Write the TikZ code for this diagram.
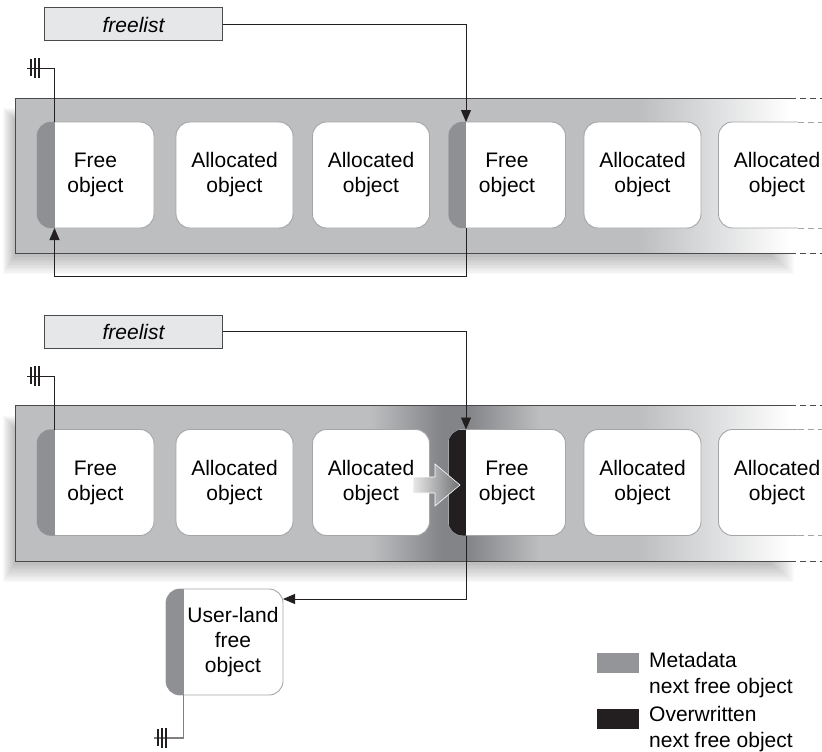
\documentclass[tikz,border=0pt]{standalone}
\usepackage{fontspec}
\setmainfont{Liberation Sans}
\usetikzlibrary{arrows.meta,calc}

\definecolor{barg}{HTML}{BCBEC0}
\definecolor{bardark}{HTML}{828487}
\definecolor{metag}{HTML}{8F9093}
\definecolor{objline}{HTML}{A3A5A8}
\definecolor{ink}{HTML}{231F20}
\definecolor{boxfill}{HTML}{E6E7E8}
\definecolor{frame}{HTML}{4A4A4A}
\definecolor{legendg}{HTML}{939598}

\tikzset{
  objbox/.style={draw=objline, line width=0.9pt, fill=white, rounded corners=14pt,
    minimum width=117pt, minimum height=106pt, inner sep=0pt, outer sep=0pt,
    align=center, font=\fontsize{21}{25}\selectfont},
  listbox/.style={draw=frame, line width=1pt, fill=boxfill, minimum width=178pt,
    minimum height=33pt, inner sep=0pt, outer sep=0pt,
    font=\fontsize{21}{25}\selectfont\itshape},
  link/.style={draw=ink, line width=0.9pt},
  tipend/.style={-{Triangle[length=12pt,width=10pt]}},
  barline/.style={draw=frame, line width=1pt},
  tick/.style={draw=ink, line width=1.5pt},
  legtext/.style={anchor=base west, inner sep=0pt, font=\fontsize{21}{25}\selectfont},
  legbox/.style={minimum width=42pt, minimum height=20pt, inner sep=0pt, outer sep=0pt},
}

% left strip of a free object holding the next-pointer
\newcommand{\metastrip}[2]{%
  \begin{scope}
    \clip[rounded corners=14pt] (#1.north west) rectangle (#1.south east);
    \fill[#2] (#1.north west) rectangle ([xshift=17.5pt]#1.south west);
  \end{scope}}

% the slab holding the objects: shadow, fill fading to the right, outline
\newcommand{\slab}[2]{%
  \foreach \i in {1,...,12}
    \fill[black, opacity=0.024] ({15-\i},{#1+22-\i}) rectangle ({770+2*\i},{#2+2+1.6*\i});
  \fill[barg] (15,#1) rectangle (640,#2);
  \shade[left color=barg, right color=white] (639.5,#1) rectangle (790,#2);
  \fill[white] (789.5,#1) rectangle (822,#2);}
\newcommand{\slabedge}[2]{%
  \draw[barline] (790,#1) -- (15,#1) -- (15,#2) -- (790,#2);
  \draw[barline, dash pattern=on 6pt off 4pt] (790,#1) -- (824,#1);
  \draw[barline, dash pattern=on 6pt off 4pt] (790,#2) -- (824,#2);}

% ground (null pointer) mark
\newcommand{\nullmark}[1]{%
  \draw[tick] ([xshift=4pt,yshift=-8pt]#1) -- ([xshift=4pt,yshift=9pt]#1);
  \draw[tick] ([xshift=8pt,yshift=-10pt]#1) -- ([xshift=8pt,yshift=10pt]#1);
  \draw[tick] ([xshift=12pt,yshift=-10pt]#1) -- ([xshift=12pt,yshift=10pt]#1);}

% open-ended last object of a slab
\newcommand{\openobj}[1]{%
  \draw[objline, line width=0.9pt, rounded corners=14pt]
    ([xshift=79pt]#1.north west) -- (#1.north west) -- (#1.south west) -- ([xshift=79pt]#1.south west);
  \draw[objline, line width=0.9pt, dash pattern=on 6pt off 4pt]
    ([xshift=79pt]#1.north west) -- ([xshift=110pt]#1.north west);
  \draw[objline, line width=0.9pt, dash pattern=on 6pt off 4pt]
    ([xshift=79pt]#1.south west) -- ([xshift=110pt]#1.south west);}

\begin{document}
\begin{tikzpicture}[x=1pt, y=-1pt]
\useasboundingbox (0,0) rectangle (822,752);
\clip (0,0) rectangle (822,752);

%% ---------------- upper list ----------------
\slab{98}{253}
\slabedge{98}{253}

\node[objbox] (a1) at (95.5,175) {Free\\object};
\node[objbox] (a2) at (234.5,175) {Allocated\\object};
\node[objbox] (a3) at (371,175) {Allocated\\object};
\node[objbox] (a4) at (507,175) {Free\\object};
\node[objbox] (a5) at (642.5,175) {Allocated\\object};
\node[objbox, draw=none] (a6) at (777,175) {Allocated\\object};
\openobj{a6}
\metastrip{a1}{metag}
\metastrip{a4}{metag}

\node[listbox] (fla) at (133.5,24.5) {freelist};
\coordinate (ga) at (27,68);
\nullmark{ga}

\draw[link, tipend] (fla.east) -| ([xshift=17.5pt]a4.north west);
\draw[link] (ga) -| ([xshift=17.5pt]a1.north west);
\draw[link, tipend] ([xshift=17.5pt]a4.south west) -- ++(0,48) -| ([xshift=17.5pt]a1.south west);

%% ---------------- lower list ----------------
\slab{405.5}{561}
% darker band where the overflow lands
\shade[left color=barg, right color=bardark] (370,405.5) rectangle (442,561);
\fill[bardark] (441.5,405.5) rectangle (468,561);
\shade[left color=bardark, right color=barg] (467.5,405.5) rectangle (540,561);
\slabedge{405.5}{561}

\node[objbox] (b1) at (95.5,482.5) {Free\\object};
\node[objbox] (b2) at (234.5,482.5) {Allocated\\object};
\node[objbox] (b3) at (371,482.5) {Allocated\\object};
\node[objbox] (b4) at (507,482.5) {Free\\object};
\node[objbox] (b5) at (642.5,482.5) {Allocated\\object};
\node[objbox, draw=none] (b6) at (777,482.5) {Allocated\\object};
\openobj{b6}
\metastrip{b1}{metag}
\metastrip{b4}{ink}

% overflow from the allocated object into the next free one
\shade[left color=gray!18, right color=bardark!85!black, draw=white, line width=0.6pt]
  (413,477) -- (435,477) -- (435,464) -- (460,485) -- (435,506) -- (435,493) -- (413,493) -- cycle;

\node[listbox] (flb) at (133.5,331.5) {freelist};
\coordinate (gb) at (27,376);
\nullmark{gb}

\draw[link, tipend] (flb.east) -| ([xshift=17.5pt]b4.north west);
\draw[link] (gb) -| ([xshift=17.5pt]b1.north west);

% object handed out by the corrupted pointer
\node[objbox] (ul) at (224.5,642) {};
\metastrip{ul}{metag}
\node[align=center, inner sep=0pt, font=\fontsize{21}{25}\selectfont] (ultext) at (233,642) {User-land\\free\\object};
\draw[link, tipend] ([xshift=17.5pt]b4.south west) |- ([yshift=-10pt]ul.north east);

\coordinate (gc) at (154,738);
\draw[draw=gray, line width=1.2pt] ([xshift=17.5pt]ul.south west) |- (gc);
\nullmark{gc}

%% ---------------- legend ----------------
\node[legbox, fill=legendg] (lg1) at (618,662.5) {};
\node[legbox, fill=ink] (lg2) at (618,718.5) {};
\node[legtext] (lt1) at (649,667) {Metadata};
\node[legtext] (lt2) at (649,693) {next free object};
\node[legtext] (lt3) at (649,721) {Overwritten};
\node[legtext] (lt4) at (649,747) {next free object};
\end{tikzpicture}
\end{document}
